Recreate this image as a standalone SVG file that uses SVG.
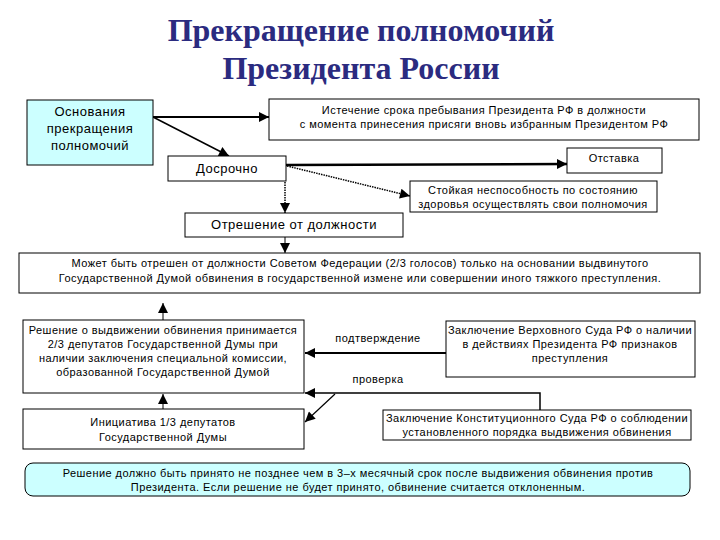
<svg xmlns="http://www.w3.org/2000/svg" width="720" height="540" viewBox="0 0 720 540">
<style>
.b{fill:#fff;stroke:#000;stroke-width:1}
.c{fill:#ccffff;stroke:#000;stroke-width:1}
text{font-family:"Liberation Sans",Arial,sans-serif;fill:#000;text-anchor:middle}
.s{font-size:11px;letter-spacing:0.45px}
.m{font-size:13px;letter-spacing:0.5px}
.t{font-family:"Liberation Serif","Times New Roman",serif;font-weight:bold;font-size:32px;fill:#2b2b80}
.l{stroke:#000;fill:none}
</style>
<defs>
<marker id="A" viewBox="0 0 10 10" refX="10" refY="5" markerWidth="12" markerHeight="10" markerUnits="userSpaceOnUse" orient="auto">
<path d="M0,0 L10,5 L0,10 z" fill="#000"/>
</marker>
</defs>
<rect width="720" height="540" fill="#fff"/>
<g id="title">
<text class="t" x="361" y="41">Прекращение полномочий</text>
<text class="t" x="361" y="79">Президента России</text>
</g>
<g id="connectors">
<line class="l" x1="153" y1="117" x2="269" y2="117" stroke-width="2" marker-end="url(#A)"/>
<line class="l" x1="153" y1="117" x2="229" y2="156" stroke-width="1.5" marker-end="url(#A)"/>
<line class="l" x1="286" y1="165" x2="567" y2="164" stroke-width="2.5" marker-end="url(#A)"/>
<line class="l" x1="287" y1="166" x2="410" y2="196" stroke-width="1.5" stroke-dasharray="1.5,1" marker-end="url(#A)"/>
<line class="l" x1="285" y1="182" x2="285" y2="213" stroke-width="1.5" stroke-dasharray="1.5,1" marker-end="url(#A)"/>
<line class="l" x1="285" y1="237" x2="285" y2="253" stroke-width="1" marker-end="url(#A)"/>
<line class="l" x1="163" y1="320" x2="163" y2="303" stroke-width="1" marker-end="url(#A)"/>
<line class="l" x1="446" y1="353" x2="305" y2="353" stroke-width="2" marker-end="url(#A)"/>
<polyline class="l" points="540,410 540,393 305,393" stroke-width="1.5" marker-end="url(#A)"/>
<line class="l" x1="335" y1="394" x2="305" y2="422" stroke-width="1.2" marker-end="url(#A)"/>
<line class="l" x1="163" y1="409" x2="163" y2="394" stroke-width="1" marker-end="url(#A)"/>
<text class="s" x="378" y="342">подтверждение</text>
<text class="s" x="378" y="383">проверка</text>
</g>
<g id="osnovaniya">
<rect class="c" x="27" y="100" width="126" height="65"/>
<text class="m" x="90" y="116">Основания</text>
<text class="m" x="90" y="133">прекращения</text>
<text class="m" x="90" y="150">полномочий</text>
</g>
<g id="istechenie">
<rect class="b" x="269" y="99" width="430" height="41"/>
<text class="s" x="484" y="114">Истечение срока пребывания Президента РФ в должности</text>
<text class="s" x="484" y="128">с момента принесения присяги вновь избранным Президентом РФ</text>
</g>
<g id="dosrochno">
<rect class="b" x="168" y="156" width="118" height="25"/>
<text class="m" x="227" y="173">Досрочно</text>
</g>
<g id="otstavka">
<rect class="b" x="567" y="148" width="95" height="25"/>
<text class="s" x="614" y="162">Отставка</text>
</g>
<g id="stoykaya">
<rect class="b" x="410" y="181" width="247" height="31"/>
<text class="s" x="533" y="194">Стойкая неспособность по состоянию</text>
<text class="s" x="533" y="208">здоровья осуществлять свои полномочия</text>
</g>
<g id="otreshenie">
<rect class="b" x="185" y="213" width="218" height="24"/>
<text class="m" x="294" y="229">Отрешение от должности</text>
</g>
<g id="mozhet">
<rect class="b" x="19" y="253" width="681" height="40"/>
<text class="s" x="360" y="267">Может быть отрешен от должности Советом Федерации (2/3 голосов) только на основании выдвинутого</text>
<text class="s" x="360" y="282">Государственной Думой обвинения в государственной измене или совершении иного тяжкого  преступления.</text>
</g>
<g id="reshenie">
<rect class="b" x="23" y="320" width="281" height="73"/>
<text class="s" x="163" y="334">Решение о выдвижении обвинения принимается</text>
<text class="s" x="163" y="348">2/3 депутатов Государственной Думы при</text>
<text class="s" x="163" y="362">наличии заключения специальной комиссии,</text>
<text class="s" x="163" y="376">образованной Государственной Думой</text>
</g>
<g id="verkhovny">
<rect class="b" x="446" y="321" width="249" height="56"/>
<text class="s" x="570" y="334">Заключение Верховного Суда РФ о наличии</text>
<text class="s" x="570" y="348">в действиях Президента РФ признаков</text>
<text class="s" x="570" y="362">преступления</text>
</g>
<g id="initsiativa">
<rect class="b" x="23" y="409" width="281" height="40"/>
<text class="s" x="163" y="426">Инициатива  1/3 депутатов</text>
<text class="s" x="163" y="441">Государственной Думы</text>
</g>
<g id="konstitutsionny">
<rect class="b" x="383" y="410" width="308" height="30"/>
<text class="s" x="537" y="422">Заключение Конституционного Суда РФ о соблюдении</text>
<text class="s" x="537" y="436">установленного порядка выдвижения обвинения</text>
</g>
<g id="srok">
<rect class="c" x="25" y="463" width="665" height="33" rx="8"/>
<text class="s" x="358" y="477">Решение должно быть принято не позднее чем в 3–х месячный срок после выдвижения обвинения против</text>
<text class="s" x="358" y="491">Президента.  Если решение не будет принято, обвинение считается отклоненным.</text>
</g>
</svg>
